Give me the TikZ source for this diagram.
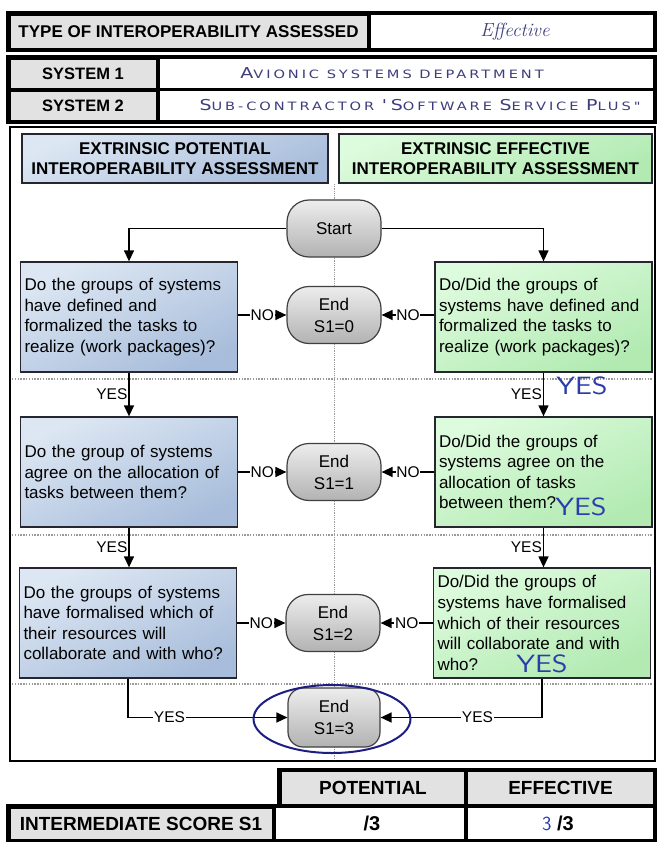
\documentclass[tikz,border=0pt]{standalone}
\usepackage{fontspec}
\usepackage{graphicx}
\newfontfamily\arial{Liberation Sans}
\newfontfamily\hand[LetterSpace=20]{DejaVu Sans}
\usetikzlibrary{arrows.meta,shapes.geometric}
\definecolor{bluetop}{HTML}{DDE7F3}
\definecolor{bluebot}{HTML}{A8BDDB}
\definecolor{greentop}{HTML}{DDFBDD}
\definecolor{greenbot}{HTML}{B2EAB2}
\definecolor{termtop}{HTML}{EDEDED}
\definecolor{termbot}{HTML}{B2B2B2}
\definecolor{cellgray}{HTML}{E2E2E2}
\definecolor{handblue}{HTML}{2B3DAA}
\definecolor{slate}{HTML}{3D3D7D}
\definecolor{navy}{HTML}{1E1E82}
\definecolor{boxline}{HTML}{262630}
\definecolor{sepgray}{HTML}{9A9A9A}
\newcommand\hbig[1]{{\fontsize{15}{15}\selectfont #1}}
\newcommand\handtxt[1]{\scalebox{1.27}[1]{\hand\fontsize{11.5}{12}\selectfont #1}}
\begin{document}
\begin{tikzpicture}[x=1pt,y=-1pt,
  font=\arial\fontsize{17}{20.6}\selectfont,
  frame/.style={draw=black,line width=3.5pt},
  graycell/.style={fill=cellgray,draw=black,line width=0.8pt,inner sep=0pt,font=\arial\bfseries\fontsize{16.5}{17}\selectfont},
  whitecell/.style={inner sep=0pt},
  bigcell/.style={graycell,font=\arial\bfseries\fontsize{19}{19}\selectfont},
  header/.style={draw=boxline,line width=1.2pt,align=center,inner sep=0pt,font=\arial\bfseries\fontsize{17}{20}\selectfont},
  bluehead/.style={header,top color=bluetop,bottom color=bluebot,shading angle=25,minimum width=306pt,minimum height=49pt},
  greenhead/.style={header,top color=greentop,bottom color=greenbot,shading angle=25,minimum width=313pt,minimum height=49pt},
  qbox/.style={draw=boxline,line width=1.3pt,minimum width=217pt,minimum height=110pt,text width=209pt,align=left,inner sep=4pt},
  bluebox/.style={qbox,top color=bluetop,bottom color=bluebot,shading angle=25},
  greenbox/.style={qbox,top color=greentop,bottom color=greenbot,shading angle=25},
  term/.style={draw=black!75,line width=1.2pt,rounded corners=22pt,minimum width=94pt,minimum height=57pt,top color=termtop,bottom color=termbot,align=center,inner sep=1pt,font=\arial\fontsize{17}{22}\selectfont},
  conn/.style={line width=1.3pt},
  arr/.style={conn,-{Triangle[length=11pt,width=10pt]}},
  lab/.style={fill=white,inner sep=0.8pt,font=\arial\fontsize{15.5}{15.5}\selectfont},
  yeslab/.style={left,inner sep=1pt,font=\arial\fontsize{15.5}{15.5}\selectfont},
  sep/.style={draw=sepgray,line width=1.2pt,dash pattern=on 1.4pt off 1.4pt},
  hw/.style={text=handblue,inner sep=0pt,font=\sffamily\fontsize{25}{25}\selectfont}
]
\useasboundingbox (0,0) rectangle (659,842);
% ---- top table 1
\node[graycell,font=\arial\bfseries\fontsize{17}{17}\selectfont,minimum width=357pt,minimum height=33pt] (typeL) at (188.5,31.5) {TYPE OF INTEROPERABILITY ASSESSED};
\node[whitecell,text=slate,font=\rmfamily\itshape\fontsize{19}{19}\selectfont] (typeR) at (515,31.5) {Effective};
\draw[frame] (8,13) rectangle (655,50);
\draw[frame] (369,13) -- (369,50);
% ---- top table 2
\node[graycell,minimum width=146pt,minimum height=29pt] (s1L) at (83,73.5) {SYSTEM 1};
\node[graycell,minimum width=146pt,minimum height=29pt] (s2L) at (83,105.5) {SYSTEM 2};
\node[whitecell,text=slate] (s1R) at (392,73.5) {\handtxt{\hbig{A}VIONIC SYSTEMS DEPARTMENT}};
\node[whitecell,text=slate] (s2R) at (420,105.5) {\handtxt{\hbig{S}UB-CONTRACTOR \hbig{'S}OFTWARE \hbig{S}ERVICE \hbig{P}LUS"}};
\draw[frame] (8,57) rectangle (655,122);
\draw[frame] (8,89.5) -- (655,89.5);
\draw[frame] (158,57) -- (158,122);
% ---- main frame
\draw[line width=2.2pt] (10,127) rectangle (655,761);
\draw[draw=sepgray,line width=0.8pt,densely dotted] (334,184) -- (334,760);
\draw[sep] (12,379) -- (653,379);
\draw[sep] (12,535) -- (653,535);
\draw[sep] (12,684) -- (653,684);
% ---- headers
\node[bluehead] (hp) at (175,158.5) {EXTRINSIC POTENTIAL\\INTEROPERABILITY ASSESSMENT};
\node[greenhead] (he) at (495.5,158.5) {EXTRINSIC EFFECTIVE\\INTEROPERABILITY ASSESSMENT};
% ---- question boxes
\node[bluebox] (b1) at (129,317) {Do the groups of systems\\have defined and\\formalized the tasks to\\realize (work packages)?};
\node[bluebox] (b2) at (129,472) {Do the group of systems\\agree on the allocation of\\tasks between them?};
\node[bluebox] (b3) at (128,623) {Do the groups of systems\\have formalised which of\\their resources will\\collaborate and with who?};
\node[greenbox] (g1) at (543.5,317) {Do/Did the groups of\\systems have defined and\\formalized the tasks to\\realize (work packages)?};
\node[greenbox] (g2) at (543.5,472) {Do/Did the groups of\\systems agree on the\\allocation of tasks\\between them?};
\node[greenbox] (g3) at (542,623) {Do/Did the groups of\\systems have formalised\\which of their resources\\will collaborate and with\\who?};
% ---- terminals
\node[term] (start) at (334,228.5) {Start};
\node[term] (e0) at (334,315) {End\\S1=0};
\node[term] (e1) at (334,472) {End\\S1=1};
\node[term] (e2) at (333,623) {End\\S1=2};
\node[term,rounded corners=15pt,minimum height=59pt,minimum width=92pt] (e3) at (334,717.5) {End\\S1=3};
% ---- connectors
\draw[arr] (start.west) -| (b1.north);
\draw[arr] (start.east) -| (g1.north);
\draw[arr] (b1.east |- e0.west) -- node[lab]{NO} (e0.west);
\draw[arr] (g1.west |- e0.east) -- node[lab]{NO} (e0.east);
\draw[arr] (b2.east |- e1.west) -- node[lab]{NO} (e1.west);
\draw[arr] (g2.west |- e1.east) -- node[lab]{NO} (e1.east);
\draw[arr] (b3.east |- e2.west) -- node[lab]{NO} (e2.west);
\draw[arr] (g3.west |- e2.east) -- node[lab]{NO} (e2.east);
\draw[arr] (b1.south) -- node[yeslab]{YES} (b1.south |- b2.north);
\draw[arr] (b2.south) -- node[yeslab]{YES} (b2.south |- b3.north);
\draw[arr] (g1.south) -- node[yeslab]{YES} (g1.south |- g2.north);
\draw[arr] (g2.south) -- node[yeslab]{YES} (g2.south |- g3.north);
\draw[arr] (b3.south) |- node[lab,pos=0.63]{YES} (e3.west);
\draw[arr] (g3.south) |- node[lab,pos=0.7]{YES} (e3.east);
% ---- highlight
\node[draw=navy,line width=2pt,ellipse,minimum width=157pt,minimum height=68pt,inner sep=0pt] (hl) at (332,719) {};
% ---- handwritten answers
\node[hw] (hy1) at (582,386) {\scalebox{1.2}[1]{YES}};
\node[hw] (hy2) at (581,507) {\scalebox{1.2}[1]{YES}};
\node[hw] (hy3) at (542,664) {\scalebox{1.2}[1]{YES}};
% ---- bottom tables
\node[bigcell,minimum width=184pt,minimum height=34pt] (potH) at (373,788) {POTENTIAL};
\node[bigcell,minimum width=187pt,minimum height=34pt] (effH) at (560.5,788) {EFFECTIVE};
\draw[frame] (279,770) rectangle (655,806);
\draw[frame] (466,770) -- (466,806);
\node[bigcell,minimum width=262pt,minimum height=31pt] (isL) at (141,823.5) {INTERMEDIATE SCORE S1};
\node[whitecell,font=\arial\bfseries\fontsize{20}{20}\selectfont] (isP) at (372,823.5) {/3};
\node[whitecell,font=\arial\bfseries\fontsize{20}{20}\selectfont] (isE) at (558,823.5) {{\sffamily\mdseries\color{handblue}3} /3};
\draw[frame] (8,806) rectangle (655,841);
\draw[frame] (274,806) -- (274,841);
\draw[frame] (466,806) -- (466,841);
\end{tikzpicture}
\end{document}
